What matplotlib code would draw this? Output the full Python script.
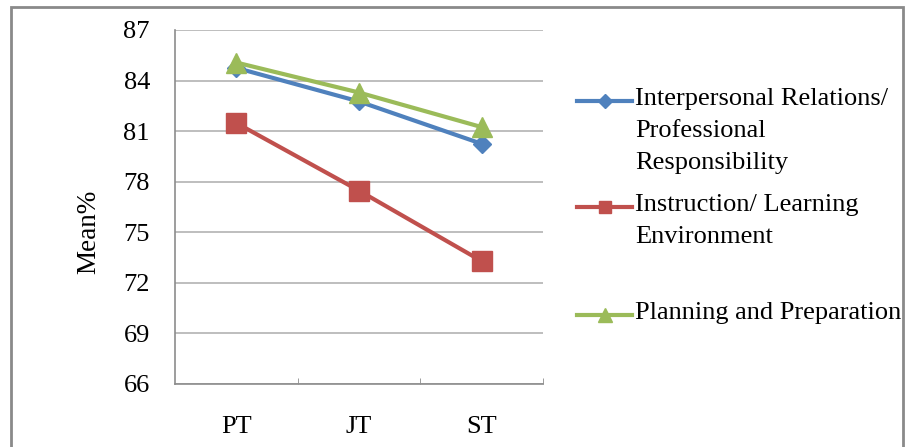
import matplotlib
matplotlib.use("Agg")
import matplotlib.pyplot as plt
from matplotlib.lines import Line2D
from matplotlib.patches import Rectangle

categories = ["PT", "JT", "ST"]
interpersonal = [84.75, 82.76, 80.25]
instruction = [81.48, 77.47, 73.29]
planning = [85.07, 83.29, 81.24]
yticks = [66, 69, 72, 75, 78, 81, 84, 87]

series_labels = [
    ["Interpersonal Relations/", "Professional", "Responsibility"],
    ["Instruction/ Learning", "Environment"],
    ["Planning and Preparation"],
]
colors = ["#4F81BD", "#C0504D", "#9BBB59"]
markers = ["D", "s", "^"]
msizes = [9.5, 14, 14]

plt.rcParams['font.family'] = ['Liberation Serif', 'DejaVu Serif']

W, H = 907, 447
fig = plt.figure(figsize=(W / 100, H / 100), dpi=100)

def fx(px):
    return px / W

def fy(py):
    return 1 - py / H

ax = fig.add_axes([fx(175), fy(384), fx(543) - fx(175), fy(30) - fy(384)])

x = list(range(len(categories)))
for vals, c, m, ms in zip([interpersonal, instruction, planning], colors, markers, msizes):
    ax.plot(x, vals, color=c, lw=3, marker=m, ms=ms, mec=c, mfc=c, zorder=3, clip_on=False)

ax.set_xlim(-0.5, 2.5)
ax.set_ylim(66, 87)
ax.set_yticks(yticks)
ax.set_yticklabels([str(v) for v in yticks], fontsize=19)
ax.set_xticks(x)
ax.set_xticklabels(categories, fontsize=19)
ax.tick_params(axis='y', length=0, pad=18)
ax.tick_params(axis='x', length=0, pad=23)
# category boundary ticks
ax.set_xticks([0.5, 1.5, 2.5], minor=True)
ax.tick_params(axis='x', which='minor', direction='in', length=4, color='#8c8c8c')
ax.grid(axis='y', color='#b3b3b3', lw=1.2)
ax.set_axisbelow(True)
for s in ['top', 'right']:
    ax.spines[s].set_visible(False)
for s in ['left', 'bottom']:
    ax.spines[s].set_color('#8c8c8c')
    ax.spines[s].set_linewidth(1.2)
ax.set_ylabel("Mean%", fontsize=19.5)
ax.yaxis.set_label_coords((89 - 175) / 368, (384 - 232) / 354)
ax.yaxis.label.set_va('center')

# legend drawn manually
handle_y = [101, 207, 315]
line_gap = 32
leg_ms = [7, 9, 10]
for lines, c, m, ms, hy in zip(series_labels, colors, markers, leg_ms, handle_y):
    fig.add_artist(Line2D([fx(577), fx(632)], [fy(hy), fy(hy)], color=c, lw=3,
                          transform=fig.transFigure))
    fig.add_artist(Line2D([fx(604.5)], [fy(hy)], color=c, marker=m, ms=ms, mec=c, mfc=c,
                          transform=fig.transFigure))
    for i, t in enumerate(lines):
        fig.text(fx(635), fy(hy - 2 + i * line_gap), t, fontsize=19, va='center', ha='left')

# outer frame
fig.add_artist(Rectangle((fx(11), -0.1), fx(903) - fx(11), fy(7) + 0.1, fill=False,
                         edgecolor='#8a8a8a', lw=2, transform=fig.transFigure, zorder=5))

fig.savefig("out.png", dpi=100)
